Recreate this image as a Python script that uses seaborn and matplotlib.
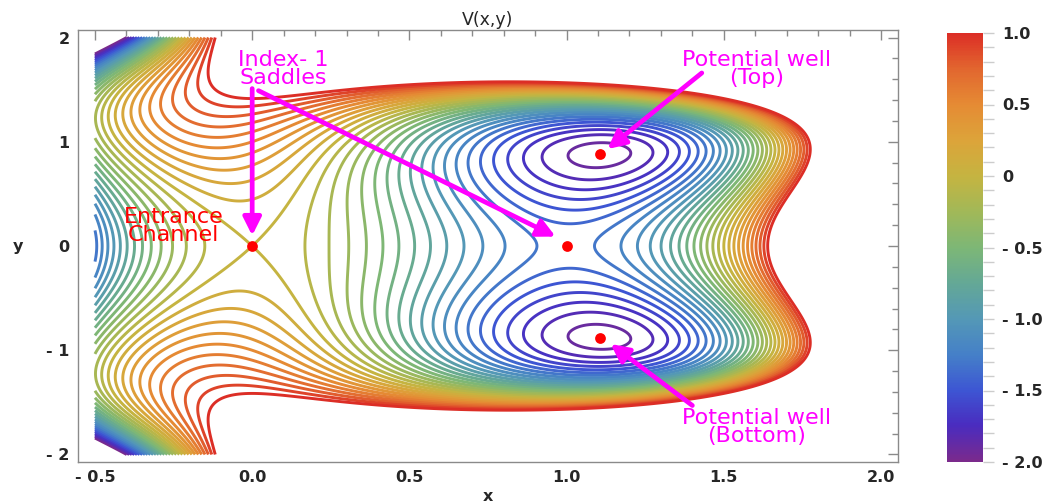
import numpy as np
import matplotlib
matplotlib.use("Agg")
import matplotlib.pyplot as plt
import seaborn as sns
from matplotlib.colors import Normalize
from matplotlib.cm import ScalarMappable
from matplotlib.ticker import FixedLocator, MultipleLocator

# ---- model data (potential V(x,y) = a x^3 + b x^2 + c y^2 + d x y^2 (y^2 - 2)) ----
coef_x3 = 8.0 / 3.0
coef_x2 = -4.0
coef_y2 = 0.5
coef_xy = 1.0
x_range = [-0.5, 2.0]
y_range = [-2.0, 2.0]
contour_levels = [round(v / 10, 1) for v in range(-20, 11)]
v_min, v_max = -2.0, 1.0

# critical points
dots_x = [0.0, 1.0, 1.107, 1.107]
dots_y = [0.0, 0.0, 0.88, -0.88]

x_ticks = [-0.5, 0.0, 0.5, 1.0, 1.5, 2.0]
x_tick_labels = ["- 0.5", "0.0", "0.5", "1.0", "1.5", "2.0"]
y_ticks = [-2, -1, 0, 1, 2]
y_tick_labels = ["- 2", "- 1", "0", "1", "2"]
cb_ticks = [1.0, 0.5, 0.0, -0.5, -1.0, -1.5, -2.0]
cb_tick_labels = ["1.0", "0.5", "0", "- 0.5", "- 1.0", "- 1.5", "- 2.0"]

rainbow_colors = ["#7b2a8c", "#4a2cbf", "#3d56d3", "#4580c8", "#5498b6",
                  "#64a896", "#7db776", "#a1b858", "#c5b441", "#dca43a",
                  "#e58b34", "#e2672f", "#dc2e26"]

sns.set_theme(style="white")
plt.rcParams["font.family"] = ["DejaVu Sans"]

cmap = sns.blend_palette(rainbow_colors, as_cmap=True)
norm = Normalize(v_min, v_max)

xs = np.linspace(x_range[0], x_range[1], 700)
ys = np.linspace(y_range[0], y_range[1], 700)
X, Y = np.meshgrid(xs, ys)
V = coef_x3 * X**3 + coef_x2 * X**2 + coef_y2 * Y**2 + coef_xy * X * Y**2 * (Y**2 - 2)

fig = plt.figure(figsize=(10.48, 5.04), dpi=100)
ax = fig.add_axes([78 / 1048, 1 - 462 / 504, 820 / 1048, 432 / 504])
ax.contour(X, Y, V, levels=contour_levels, cmap=cmap, norm=norm, linewidths=2.1)

ax.set_xlim(-0.554, 2.054)
ax.set_ylim(-2.072, 2.072)

frame_col = "#8a8a8a"
for s in ax.spines.values():
    s.set_color(frame_col)
    s.set_linewidth(1.0)
ax.xaxis.set_major_locator(FixedLocator(x_ticks))
ax.set_xticklabels(x_tick_labels)
ax.yaxis.set_major_locator(FixedLocator(y_ticks))
ax.set_yticklabels(y_tick_labels)
ax.xaxis.set_minor_locator(MultipleLocator(0.1))
ax.yaxis.set_minor_locator(MultipleLocator(0.2))
ax.tick_params(which="both", direction="in", top=True, right=True, color=frame_col,
               width=1.0)
ax.tick_params(which="major", length=7, labelsize=11.5, pad=6)
ax.tick_params(which="minor", length=4)
for lab in ax.get_xticklabels() + ax.get_yticklabels():
    lab.set_fontweight("bold")

ax.set_xlabel("x", fontsize=11.5, fontweight="bold")
ax.xaxis.set_label_coords(0.5, -0.062)
ax.set_ylabel("y", fontsize=11.5, fontweight="bold", rotation=0, ha="center", va="center")
ax.yaxis.set_label_coords(-0.073, 0.5)
fig.text(488 / 1048, 1 - 20 / 504, "V(x,y)", ha="center", va="center", fontsize=12.5)

# critical points
ax.scatter(dots_x, dots_y, s=60, color="#ff0000", zorder=5, linewidths=0)

mag = "#ff00ff"
arrow = dict(arrowstyle="-|>", lw=3.4, color=mag, mutation_scale=27,
             shrinkA=0, shrinkB=0)
ax.annotate("", xy=(0.0, 0.10), xytext=(0.0, 1.51), arrowprops=arrow, zorder=6)
ax.annotate("", xy=(0.965, 0.09), xytext=(0.02, 1.49), arrowprops=arrow, zorder=6)
ax.annotate("", xy=(1.13, 0.93), xytext=(1.43, 1.66), arrowprops=arrow, zorder=6)
ax.annotate("", xy=(1.14, -0.94), xytext=(1.40, -1.53), arrowprops=arrow, zorder=6)

txt = dict(fontsize=16, ha="center", va="center", linespacing=0.85, zorder=7)
ax.text(0.10, 1.70, "Index- 1\nSaddles", color=mag, **txt)
ax.text(-0.25, 0.19, "Entrance\nChannel", color="#ff0000", **txt)
ax.text(1.605, 1.70, "Potential well\n(Top)", color=mag, **txt)
ax.text(1.605, -1.735, "Potential well\n(Bottom)", color=mag, **txt)

# colour bar
cax = fig.add_axes([947 / 1048, 1 - 462 / 504, 36 / 1048, 429 / 504])
cb = fig.colorbar(ScalarMappable(norm=norm, cmap=cmap), cax=cax)
cb.outline.set_visible(False)
cb.set_ticks(cb_ticks)
cb.set_ticklabels(cb_tick_labels)
cax.yaxis.set_minor_locator(MultipleLocator(0.1))
cax.tick_params(which="both", direction="out", color="#cccccc", width=1.0)
cax.tick_params(which="major", length=8, labelsize=11.5, pad=6)
cax.tick_params(which="minor", length=8)
for lab in cax.get_yticklabels():
    lab.set_fontweight("bold")

fig.savefig("out.png", dpi=100)
